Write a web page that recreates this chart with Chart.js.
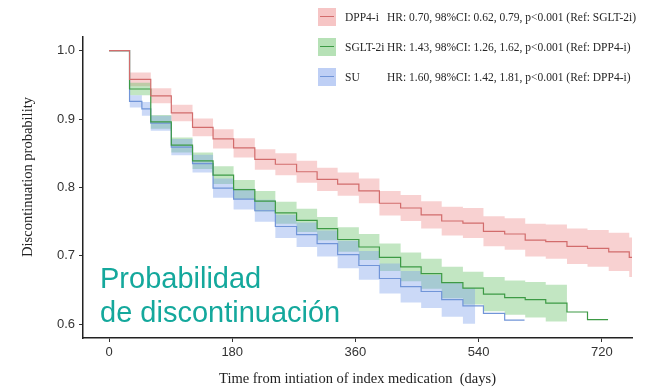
<!DOCTYPE html>
<html>
<head>
<meta charset="utf-8">
<script src="https://cdn.jsdelivr.net/npm/chart.js@4/dist/chart.umd.min.js"></script>
<style>
  body { margin: 0; background: #fff; }
  #wrap { position: relative; width: 657px; height: 391px; overflow: hidden; }
  #overlay { position: absolute; left: 100px; top: 261px; font-family: "Liberation Sans", Arial, sans-serif;
    font-size: 29px; line-height: 34px; color: #14a89c; white-space: nowrap; }
  .leg { position: absolute; left: 318px; height: 18px; font-family: "Liberation Serif", "Times New Roman", serif;
    font-size: 11.5px; line-height: 18px; color: #262626; white-space: nowrap; }
  .leg .box { position: absolute; left: 0; top: 0; width: 18px; height: 18px; }
  .leg .box i { position: absolute; left: 2px; right: 2px; top: 8px; height: 1.3px; }
  .leg .nm { position: absolute; left: 27px; top: 0; }
  .leg .hr { position: absolute; left: 69px; top: 0; }
</style>
</head>
<body>
<div id="wrap">
  <canvas id="km" width="657" height="391"></canvas>
  <div id="legend"></div>
  <div id="overlay">Probabilidad<br>de discontinuación</div>
</div>
<script>
// Kaplan-Meier style curves (step at start of each month)
const dppTime = [0, 30, 61, 91, 122, 152, 182, 213, 243, 274, 304, 334, 365, 395, 426, 456, 486, 517, 547, 578, 608, 638, 669, 699, 730, 760, 764];
const dppSurv = [1.0, 0.958, 0.934, 0.909, 0.888, 0.871, 0.858, 0.841, 0.834, 0.823, 0.812, 0.805, 0.795, 0.777, 0.770, 0.760, 0.751, 0.748, 0.736, 0.732, 0.723, 0.721, 0.714, 0.711, 0.706, 0.698, 0.698];
const dppBandTime = [30, 61, 91, 122, 152, 182, 213, 243, 274, 304, 334, 365, 395, 426, 456, 486, 517, 547, 578, 608, 638, 669, 699, 730, 760, 764];
const dppUpper = [0.968, 0.945, 0.921, 0.901, 0.885, 0.872, 0.856, 0.850, 0.839, 0.829, 0.822, 0.813, 0.795, 0.789, 0.780, 0.772, 0.770, 0.758, 0.755, 0.747, 0.746, 0.740, 0.738, 0.734, 0.727, 0.727];
const dppLower = [0.948, 0.923, 0.897, 0.875, 0.857, 0.844, 0.826, 0.818, 0.807, 0.795, 0.788, 0.777, 0.759, 0.751, 0.740, 0.730, 0.726, 0.714, 0.709, 0.699, 0.696, 0.688, 0.684, 0.678, 0.669, 0.669];

const sgltTime = [0, 30, 61, 91, 122, 152, 182, 213, 243, 274, 304, 334, 365, 395, 426, 456, 486, 517, 547, 578, 608, 638, 669, 699, 729];
const sgltSurv = [1.0, 0.944, 0.896, 0.862, 0.839, 0.818, 0.797, 0.780, 0.763, 0.752, 0.740, 0.724, 0.713, 0.698, 0.684, 0.674, 0.661, 0.653, 0.644, 0.639, 0.636, 0.631, 0.618, 0.607, 0.607];
const sgltBandTime = [30, 61, 91, 122, 152, 182, 213, 243, 274, 304, 334, 365, 395, 426, 456, 486, 517, 547, 578, 608, 638, 669];
const sgltUpper = [0.953, 0.906, 0.873, 0.851, 0.831, 0.811, 0.795, 0.779, 0.769, 0.757, 0.742, 0.732, 0.718, 0.705, 0.696, 0.684, 0.677, 0.669, 0.664, 0.662, 0.658, 0.658];
const sgltLower = [0.935, 0.886, 0.851, 0.827, 0.805, 0.783, 0.765, 0.747, 0.735, 0.723, 0.706, 0.694, 0.678, 0.663, 0.652, 0.638, 0.629, 0.619, 0.614, 0.610, 0.604, 0.604];

const suTime = [0, 30, 48, 61, 91, 122, 152, 182, 213, 243, 274, 304, 334, 365, 395, 426, 456, 486, 517, 547, 578, 607];
const suSurv = [1.0, 0.926, 0.915, 0.894, 0.859, 0.835, 0.799, 0.783, 0.766, 0.743, 0.731, 0.718, 0.702, 0.686, 0.667, 0.655, 0.648, 0.636, 0.627, 0.616, 0.606, 0.606];
const suBandTime = [30, 48, 61, 91, 122, 152, 182, 213, 243, 274, 304, 334, 365, 395, 426, 456, 486, 517, 535];
const suUpper = [0.935, 0.925, 0.905, 0.871, 0.848, 0.813, 0.798, 0.782, 0.760, 0.749, 0.737, 0.722, 0.707, 0.689, 0.678, 0.672, 0.661, 0.653, 0.653];
const suLower = [0.917, 0.905, 0.883, 0.847, 0.822, 0.785, 0.768, 0.750, 0.726, 0.713, 0.699, 0.682, 0.665, 0.645, 0.632, 0.624, 0.611, 0.601, 0.601];

const xTicks = [0, 180, 360, 540, 720];
const yTicks = [0.6, 0.7, 0.8, 0.9, 1.0];
const xTitle = "Time from intiation of index medication  (days)";
const yTitle = "Discontinuation probability";

const groups = ["DPP4-i", "SGLT-2i", "SU"];
const hrText = [
  "HR: 0.70, 98%CI: 0.62, 0.79, p<0.001 (Ref: SGLT-2i)",
  "HR: 1.43, 98%CI: 1.26, 1.62, p<0.001 (Ref: DPP4-i)",
  "HR: 1.60, 98%CI: 1.42, 1.81, p<0.001 (Ref: DPP4-i)"
];

const lineCol = ["#d26c6c", "#3d9a45", "#7195d8"];
const bandCol = ["rgba(238,140,140,0.40)", "rgba(110,195,110,0.42)", "rgba(125,160,235,0.40)"];

function pts(xs, ys) {
  return xs.map((x, i) => ({ x: x, y: ys[i] }));
}

// legend in html
const legend = document.getElementById("legend");
groups.forEach((g, i) => {
  let row = document.createElement("div");
  row.className = "leg";
  row.style.top = (7.5 + 30 * i) + "px";
  row.innerHTML = '<span class="box" style="background:' + bandCol[i].replace(/[\d.]+\)$/, "0.5)") +
    '"><i style="background:' + lineCol[i] + '"></i></span><span class="nm">' + g +
    '</span><span class="hr">' + hrText[i].replace("<", "&lt;") + '</span>';
  legend.appendChild(row);
});

function band(times, vals, col, order, target) {
  return {
    data: pts(times, vals),
    stepped: true,
    borderWidth: 0,
    pointRadius: 0,
    backgroundColor: col,
    fill: target === undefined ? false : target,
    order: order
  };
}
function curve(times, vals, col) {
  return {
    data: pts(times, vals),
    stepped: true,
    borderColor: col,
    borderWidth: 1.2,
    pointRadius: 0,
    fill: false,
    order: 0
  };
}

const datasets = [
  band(dppBandTime, dppUpper, bandCol[0], 3),
  band(dppBandTime, dppLower, bandCol[0], 3, 0),
  band(sgltBandTime, sgltUpper, bandCol[1], 2),
  band(sgltBandTime, sgltLower, bandCol[1], 2, 2),
  band(suBandTime, suUpper, bandCol[2], 1),
  band(suBandTime, suLower, bandCol[2], 1, 4),
  curve(dppTime, dppSurv, lineCol[0]),
  curve(sgltTime, sgltSurv, lineCol[1]),
  curve(suTime, suSurv, lineCol[2])
];

const yTitlePlugin = {
  id: "yTitle",
  afterDraw(chart) {
    const ctx = chart.ctx;
    ctx.save();
    ctx.translate(28, 177);
    ctx.rotate(-Math.PI / 2);
    ctx.font = '14.5px "Liberation Serif"';
    ctx.fillStyle = "#222";
    ctx.textAlign = "center";
    ctx.textBaseline = "middle";
    ctx.fillText(yTitle, 0, 0);
    ctx.restore();
  }
};

Chart.defaults.font.family = '"Liberation Sans", Arial, sans-serif';

new Chart(document.getElementById("km"), {
  type: "line",
  data: { datasets: datasets },
  options: {
    responsive: false,
    animation: false,
    layout: { padding: { top: 37, right: 25, left: 0, bottom: 0 } },
    plugins: { legend: { display: false }, tooltip: { enabled: false } },
    scales: {
      x: {
        type: "linear",
        min: -38,
        max: 764,
        afterBuildTicks: (s) => { s.ticks = xTicks.map(v => ({ value: v })); },
        afterFit: (s) => { s.height = 53; },
        grid: { drawOnChartArea: false, drawTicks: true, tickLength: 4, color: "#333" },
        border: { display: true, color: "#222", width: 1.5 },
        ticks: { color: "#333", font: { size: 13 }, padding: 3 },
        title: { display: true, text: xTitle, color: "#222",
          font: { family: '"Liberation Serif", "Times New Roman", serif', size: 14.5 },
          padding: { top: 0, bottom: 3 } }
      },
      y: {
        min: 0.58,
        max: 1.02,
        afterBuildTicks: (s) => { s.ticks = yTicks.map(v => ({ value: v })); },
        afterFit: (s) => { s.width = 83; },
        grid: { drawOnChartArea: false, drawTicks: true, tickLength: 4, color: "#333" },
        border: { display: true, color: "#222", width: 1.5 },
        ticks: { color: "#333", font: { size: 13 }, padding: 4, callback: (v) => v.toFixed(1) }
      }
    }
  },
  plugins: [yTitlePlugin]
});
</script>
</body>
</html>
